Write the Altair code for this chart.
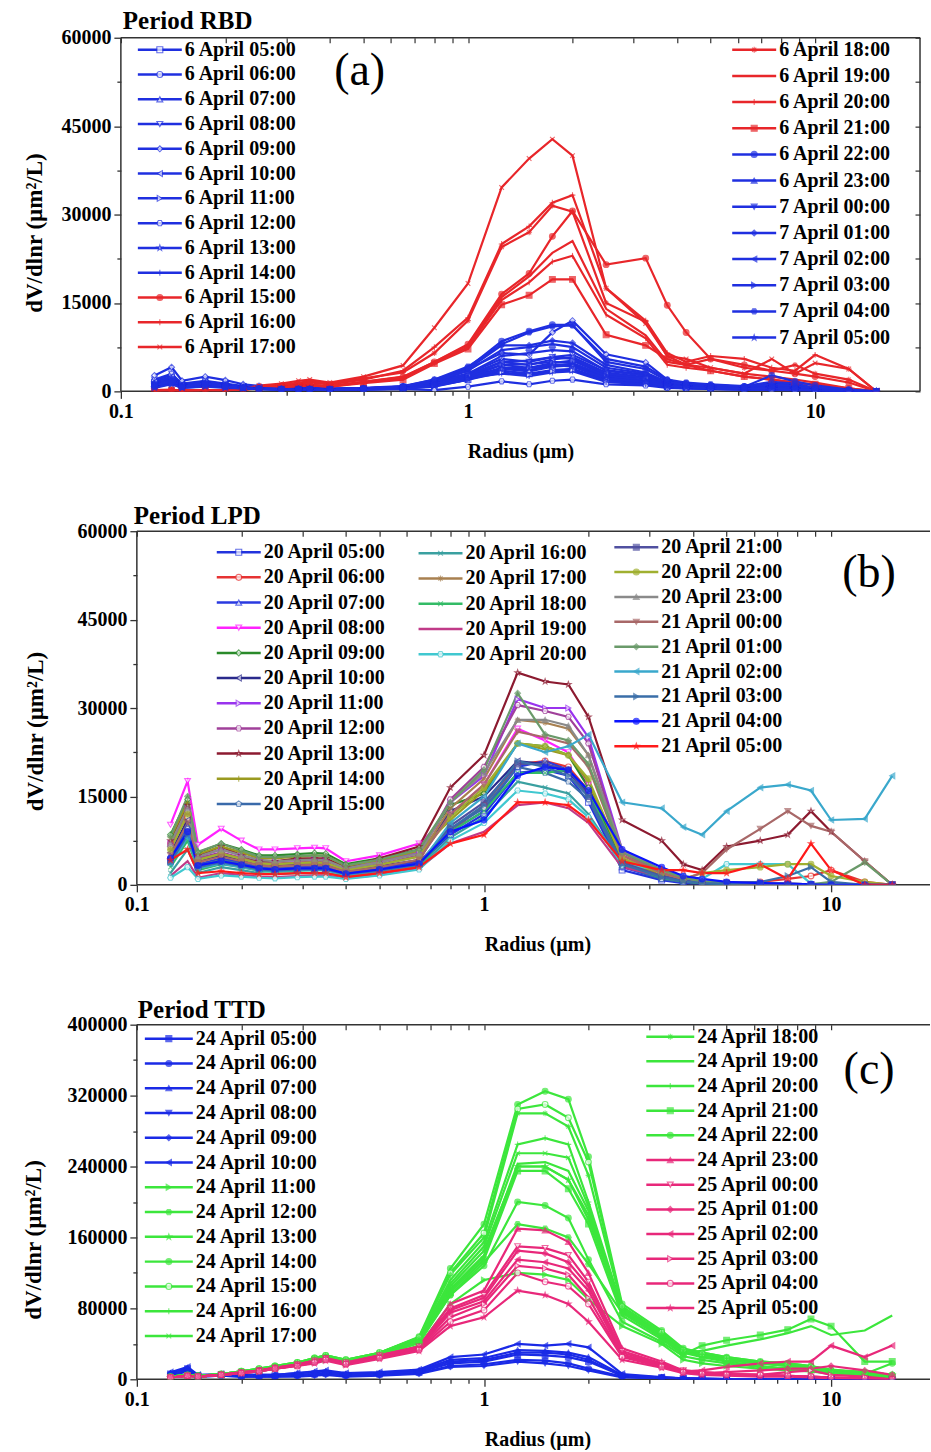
import altair as alt
import pandas as pd

FONT = "Liberation Serif"

# Particle radius bins (µm)
RADIUS = [0.125, 0.14, 0.15, 0.175, 0.2, 0.225, 0.25, 0.29, 0.325, 0.35, 0.4, 0.5,
          0.65, 0.8, 1.0, 1.25, 1.5, 1.75, 2.0, 2.5, 3.25, 3.75, 4.25, 5.0, 6.25,
          7.5, 8.75, 10.0, 12.5, 15.0]

# ---------------- Period RBD (values in 1000 µm²/L) ----------------
LABELS_A = [f"6 April {h:02d}:00" for h in range(5, 24)] + [f"7 April {h:02d}:00" for h in range(0, 6)]
BLUE_A, RED_A = "#1f2fe0", "#e8262a"
COLORS_A = [BLUE_A] * 10 + [RED_A] * 7 + [BLUE_A] * 8
MARKERS_A = [("square", 0), ("circle", 0), ("triangle-up", 0), ("triangle-down", 0), ("diamond", 0),
             ("triangle-left", 0), ("triangle-right", 0), ("hexagon", 0), ("star", 0), ("vbar", 0),
             ("circle", 1), ("plus", 0), ("cross", 0), ("asterisk", 0), ("none", 0), ("vbar", 0),
             ("square", 1), ("circle", 1), ("triangle-up", 1), ("triangle-down", 1), ("diamond", 1),
             ("triangle-left", 1), ("triangle-right", 1), ("hexagon", 1), ("star", 1)]
VALUES_A = [
    [1.5, 2.2, 1.0, 1.4, 1.0, 0.7, 0.5, 0.4, 0.4, 0.4, 0.3, 0.4, 0.5, 0.8, 2.0, 3.5, 3.0, 3.6, 3.8, 2.0, 1.5, 0.8, 0.6, 0.4, 0.3, 0.3, 0.2, 0.1, 0, 0],
    [1.8, 2.8, 1.2, 1.7, 1.2, 0.8, 0.6, 0.5, 0.5, 0.5, 0.4, 0.5, 0.7, 1.3, 2.6, 4.5, 4.0, 4.8, 5.2, 2.8, 2.2, 1.2, 0.8, 0.6, 0.5, 0.4, 0.3, 0.2, 0, 0],
    [1.2, 2.0, 0.9, 1.3, 1.0, 0.7, 0.5, 0.4, 0.4, 0.4, 0.3, 0.4, 0.6, 1.2, 2.4, 4.0, 3.6, 4.4, 4.6, 2.5, 1.8, 1.0, 0.8, 0.5, 0.4, 0.6, 0.4, 0.2, 0, 0],
    [2.0, 3.0, 1.3, 1.8, 1.3, 0.9, 0.7, 0.5, 0.5, 0.5, 0.4, 0.5, 0.8, 1.6, 3.0, 5.5, 5.0, 5.8, 6.2, 3.6, 2.8, 1.4, 1.0, 0.8, 0.6, 0.8, 0.5, 0.3, 0.1, 0],
    [2.7, 4.1, 1.8, 2.5, 1.9, 1.2, 0.9, 0.7, 0.7, 0.6, 0.5, 0.6, 0.9, 2.0, 3.8, 6.5, 6.2, 10.0, 12.0, 6.3, 4.9, 2.0, 1.2, 1.0, 0.8, 1.5, 1.0, 0.6, 0.2, 0],
    [1.6, 2.5, 1.1, 1.6, 1.1, 0.8, 0.6, 0.5, 0.5, 0.5, 0.4, 0.5, 0.7, 1.4, 2.8, 5.0, 4.5, 5.4, 5.8, 3.2, 2.4, 1.2, 0.9, 0.7, 0.6, 0.9, 0.6, 0.3, 0, 0],
    [1.0, 1.8, 0.8, 1.2, 0.9, 0.6, 0.5, 0.4, 0.4, 0.4, 0.3, 0.4, 0.5, 1.0, 2.0, 3.2, 2.8, 3.4, 3.6, 1.8, 1.4, 0.8, 0.6, 0.5, 0.4, 0.3, 0.2, 0.1, 0, 0],
    [0.8, 1.5, 0.7, 1.0, 0.8, 0.5, 0.4, 0.3, 0.3, 0.3, 0.3, 0.3, 0.4, 0.2, 0.8, 1.7, 1.2, 1.8, 2.0, 1.2, 1.0, 0.6, 0.5, 0.4, 0.3, 0.2, 0.1, 0.1, 0, 0],
    [1.4, 2.3, 1.0, 1.5, 1.1, 0.7, 0.5, 0.4, 0.4, 0.4, 0.3, 0.4, 0.6, 1.1, 2.2, 3.8, 3.4, 4.2, 4.4, 2.2, 1.6, 0.9, 0.7, 0.5, 0.4, 0.5, 0.3, 0.2, 0, 0],
    [1.1, 1.9, 0.9, 1.3, 1.0, 0.7, 0.5, 0.4, 0.4, 0.4, 0.3, 0.4, 0.6, 1.1, 2.3, 3.0, 2.6, 3.2, 3.4, 1.6, 1.2, 0.7, 0.5, 0.4, 0.3, 0.3, 0.2, 0.1, 0, 0],
    [0.2, 0.3, 0.1, 0.2, 0.2, 0.3, 0.6, 0.8, 1.0, 1.1, 0.9, 1.6, 2.5, 5.0, 8.0, 16.5, 20.0, 26.3, 30.6, 21.5, 22.6, 14.6, 10.0, 5.5, 4.5, 3.5, 3.0, 2.5, 1.5, 0],
    [0.1, 0.2, 0.1, 0.2, 0.2, 0.3, 0.7, 1.0, 1.3, 1.5, 1.2, 2.0, 3.5, 7.5, 12.5, 25.0, 28.0, 32.0, 33.3, 17.5, 12.0, 6.5, 5.0, 6.0, 5.5, 4.0, 3.5, 6.2, 3.8, 0],
    [0.1, 0.2, 0.1, 0.2, 0.2, 0.4, 1.0, 1.3, 1.8, 2.0, 1.5, 2.5, 4.4, 10.8, 18.3, 34.6, 39.5, 42.8, 40.0, 17.5, 11.5, 6.0, 5.5, 4.0, 3.0, 5.5, 3.0, 4.8, 3.8, 0],
    [0.1, 0.2, 0.1, 0.2, 0.2, 0.3, 0.8, 1.1, 1.5, 1.7, 1.3, 2.2, 3.2, 6.5, 12.0, 24.5, 27.0, 31.5, 30.5, 15.0, 11.8, 6.0, 4.5, 5.5, 4.0, 3.5, 4.5, 3.0, 2.0, 0],
    [0.1, 0.2, 0.1, 0.2, 0.2, 0.3, 0.6, 0.8, 1.0, 1.1, 0.9, 1.6, 2.4, 5.0, 7.8, 16.0, 19.5, 23.5, 25.5, 14.0, 9.5, 5.0, 4.5, 4.0, 3.0, 2.5, 2.0, 1.5, 0.5, 0],
    [0.1, 0.2, 0.1, 0.2, 0.2, 0.3, 0.6, 0.8, 0.9, 1.0, 0.8, 1.5, 2.2, 4.8, 7.5, 15.5, 18.5, 22.0, 23.0, 13.0, 9.0, 4.5, 4.0, 3.5, 2.5, 2.0, 1.5, 1.0, 0.3, 0],
    [0.1, 0.2, 0.1, 0.2, 0.2, 0.3, 0.5, 0.7, 0.9, 1.0, 0.8, 1.4, 2.0, 4.7, 7.2, 14.7, 16.3, 19.0, 19.0, 9.6, 7.8, 5.5, 4.5, 3.5, 2.5, 2.0, 1.5, 1.2, 0.5, 0],
    [1.2, 2.0, 1.0, 1.4, 1.0, 0.7, 0.5, 0.4, 0.4, 0.4, 0.4, 0.5, 0.8, 1.8, 4.0, 8.5, 10.2, 11.3, 11.3, 5.0, 3.8, 1.8, 1.4, 1.0, 0.8, 2.7, 1.7, 1.0, 0.3, 0],
    [1.0, 1.8, 0.9, 1.2, 0.9, 0.6, 0.5, 0.4, 0.4, 0.4, 0.3, 0.4, 0.7, 1.5, 3.5, 7.0, 7.5, 8.0, 7.5, 4.0, 3.0, 1.5, 1.2, 0.9, 0.7, 1.0, 0.8, 0.4, 0.1, 0],
    [0.9, 1.6, 0.8, 1.1, 0.8, 0.6, 0.4, 0.3, 0.3, 0.3, 0.3, 0.4, 0.6, 1.3, 3.0, 6.0, 6.5, 7.0, 6.8, 3.5, 2.6, 1.3, 1.0, 0.8, 0.6, 0.8, 0.6, 0.3, 0, 0],
    [1.1, 1.9, 0.9, 1.3, 1.0, 0.7, 0.5, 0.4, 0.4, 0.4, 0.3, 0.5, 0.7, 1.6, 3.8, 7.8, 7.8, 8.6, 8.2, 4.5, 3.2, 1.6, 1.2, 1.0, 0.8, 1.2, 0.9, 0.5, 0.1, 0],
    [0.8, 1.5, 0.7, 1.0, 0.8, 0.5, 0.4, 0.3, 0.3, 0.3, 0.3, 0.4, 0.5, 1.2, 2.6, 5.0, 5.2, 5.8, 5.5, 3.0, 2.2, 1.1, 0.9, 0.7, 0.5, 0.7, 0.5, 0.2, 0, 0],
    [0.7, 1.3, 0.6, 0.9, 0.7, 0.5, 0.4, 0.3, 0.3, 0.3, 0.2, 0.3, 0.5, 1.0, 2.3, 4.5, 4.6, 5.0, 4.8, 2.6, 1.9, 1.0, 0.8, 0.6, 0.5, 0.6, 0.4, 0.2, 0, 0],
    [1.0, 1.7, 0.8, 1.2, 0.9, 0.6, 0.5, 0.4, 0.4, 0.4, 0.3, 0.5, 0.8, 2.0, 4.2, 8.0, 10.0, 11.0, 11.2, 5.5, 4.2, 2.0, 1.5, 1.2, 0.9, 1.6, 1.3, 0.6, 0.3, 0],
    [0.6, 1.2, 0.6, 0.8, 0.6, 0.5, 0.4, 0.3, 0.3, 0.3, 0.2, 0.3, 0.4, 0.9, 2.0, 4.0, 4.0, 4.5, 4.2, 2.2, 1.6, 0.9, 0.7, 0.5, 0.4, 0.5, 0.3, 0.2, 0, 0],
]

# ---------------- Period LPD (values in 1000 µm²/L) ----------------
LABELS_B = [f"20 April {h:02d}:00" for h in range(5, 24)] + [f"21 April {h:02d}:00" for h in range(0, 6)]
COLORS_B = ["#2233dd", "#e63333", "#2a3ae0", "#ff22ff", "#2a8a2a", "#2a2a8c", "#9933ee", "#a0409a",
            "#8c1a30", "#9a9a20", "#3a6aaa", "#3aa0a0", "#a88050", "#33bb66", "#c03a88", "#40c8d0",
            "#5050a0", "#a0b030", "#8a8a8a", "#a86868", "#6a9a6a", "#3aa8cc", "#3a6ea8", "#0a14ff", "#ff1a1a"]
MARKERS_B = [("square", 0), ("circle", 0), ("triangle-up", 0), ("triangle-down", 0), ("diamond", 0),
             ("triangle-left", 0), ("triangle-right", 0), ("hexagon", 0), ("star", 0), ("plus", 0),
             ("pentagon", 0), ("cross", 0), ("asterisk", 0), ("cross", 0), ("none", 0), ("hexagon", 0),
             ("square", 1), ("circle", 1), ("triangle-up", 1), ("triangle-down", 1), ("diamond", 1),
             ("triangle-left", 1), ("triangle-right", 1), ("circle", 1), ("star", 1)]
VALUES_B = [
    [4.0, 9.0, 3.0, 4.0, 3.5, 2.8, 2.5, 2.6, 2.7, 2.7, 1.8, 2.5, 3.5, 8.5, 12.0, 19.0, 19.5, 18.5, 14.0, 2.5, 0.8, 0.3, 0.2, 0.1, 0, 0, 0, 0, 0, 0],
    [7.0, 11.5, 4.0, 5.0, 4.2, 3.5, 3.2, 3.5, 3.6, 3.5, 2.2, 3.0, 4.0, 9.0, 13.5, 20.5, 21.0, 20.0, 16.0, 4.0, 2.0, 1.0, 0.5, 0.3, 0.5, 1.0, 1.5, 2.5, 0.5, 0],
    [5.0, 10.0, 3.5, 4.5, 3.8, 3.0, 2.8, 3.0, 3.0, 3.0, 2.0, 2.8, 3.8, 9.0, 12.5, 20.0, 21.0, 19.5, 15.0, 3.0, 1.0, 0.5, 0.3, 0.2, 0.1, 0, 0, 0, 0, 0],
    [10.2, 17.6, 6.8, 9.5, 7.5, 6.0, 6.0, 6.2, 6.3, 6.2, 4.0, 5.0, 7.0, 12.0, 17.0, 26.5, 24.5, 22.5, 17.0, 4.5, 1.5, 0.8, 0.4, 0.3, 0.2, 0.1, 0, 0, 0, 0],
    [8.5, 14.5, 5.5, 7.0, 6.0, 5.0, 5.0, 5.2, 5.4, 5.3, 3.5, 4.5, 6.0, 13.5, 15.5, 24.0, 23.5, 22.0, 16.5, 4.0, 1.5, 0.8, 0.4, 0.3, 0.2, 0.1, 0, 0, 0, 0],
    [5.5, 11.0, 4.0, 5.0, 4.3, 3.6, 3.4, 3.6, 3.7, 3.6, 2.4, 3.2, 4.2, 12.5, 15.0, 21.0, 20.5, 19.0, 15.5, 3.5, 1.2, 0.6, 0.3, 0.2, 0.1, 0, 0, 0, 0, 0],
    [7.0, 13.0, 4.8, 6.0, 5.0, 4.2, 4.0, 4.2, 4.3, 4.2, 3.0, 4.0, 5.5, 14.0, 18.5, 31.5, 30.0, 30.0, 25.0, 6.0, 2.0, 1.0, 0.5, 0.4, 0.3, 0.2, 0.1, 0, 0, 0],
    [6.5, 12.5, 4.5, 5.5, 4.6, 3.8, 3.6, 3.8, 3.9, 3.8, 2.6, 3.5, 5.0, 14.5, 20.0, 30.5, 29.5, 28.5, 24.0, 5.5, 2.0, 1.0, 0.5, 0.3, 0.2, 0.1, 0, 0, 0, 0],
    [7.5, 13.5, 5.0, 6.5, 5.0, 4.0, 4.0, 4.5, 4.5, 4.5, 3.0, 4.5, 6.5, 16.5, 22.0, 36.0, 34.5, 34.0, 28.5, 11.0, 7.5, 3.5, 2.5, 6.5, 7.5, 8.5, 12.5, 9.0, 4.0, 0],
    [8.0, 14.0, 5.2, 6.5, 5.5, 4.5, 4.5, 4.8, 5.0, 4.9, 3.2, 4.2, 5.8, 11.0, 16.0, 24.0, 23.0, 22.0, 17.5, 4.5, 1.5, 0.8, 0.4, 0.3, 0.2, 0.1, 0, 0, 0, 0],
    [4.5, 9.5, 3.3, 4.2, 3.6, 2.9, 2.7, 2.8, 2.9, 2.9, 1.9, 2.6, 3.6, 9.5, 13.0, 20.0, 19.0, 17.5, 14.5, 3.2, 1.0, 0.5, 0.3, 0.2, 0.1, 0, 0, 0, 0, 0],
    [2.0, 6.0, 2.0, 3.0, 2.5, 2.0, 1.8, 2.0, 2.0, 2.0, 1.5, 2.0, 3.0, 8.0, 11.5, 17.5, 16.5, 15.5, 12.0, 3.5, 1.5, 0.8, 0.5, 0.3, 0.2, 0.1, 0, 0, 0, 0],
    [6.0, 12.0, 4.3, 5.3, 4.5, 3.7, 3.5, 3.7, 3.8, 3.7, 2.5, 3.4, 4.8, 13.0, 18.0, 28.0, 27.5, 26.5, 22.0, 5.0, 2.0, 1.0, 0.5, 0.3, 0.2, 0.1, 0, 0, 0, 0],
    [3.0, 7.5, 2.5, 3.5, 3.0, 2.4, 2.2, 2.4, 2.5, 2.5, 1.7, 2.3, 3.3, 9.0, 12.5, 19.0, 19.0, 19.5, 16.0, 3.5, 1.2, 0.6, 0.3, 0.2, 0.1, 0, 0, 0, 0, 0],
    [1.5, 4.0, 1.2, 2.0, 1.7, 1.4, 1.3, 1.5, 1.6, 1.6, 1.1, 1.7, 2.8, 7.0, 9.0, 13.5, 14.0, 13.0, 10.5, 3.0, 1.5, 0.8, 0.5, 0.3, 0.2, 0.1, 0, 0, 0, 0],
    [1.2, 3.0, 1.0, 1.6, 1.4, 1.2, 1.1, 1.3, 1.4, 1.4, 1.0, 1.6, 2.6, 7.5, 10.5, 16.0, 15.5, 14.5, 11.5, 3.5, 2.5, 1.5, 1.0, 3.5, 3.5, 3.5, 0.2, 0.1, 0, 0],
    [4.2, 9.0, 3.2, 4.0, 3.4, 2.8, 2.6, 2.8, 2.8, 2.8, 1.9, 2.6, 3.6, 10.0, 14.0, 20.5, 20.5, 19.5, 15.0, 3.8, 1.5, 0.8, 0.4, 0.3, 0.2, 0.1, 0, 0, 0, 0],
    [6.0, 12.0, 4.2, 5.3, 4.4, 3.6, 3.5, 3.7, 3.8, 3.7, 2.5, 3.4, 4.8, 11.5, 16.5, 24.0, 23.5, 22.0, 18.0, 4.5, 2.0, 1.0, 2.0, 2.5, 3.0, 3.5, 3.5, 1.5, 0.5, 0],
    [7.0, 13.0, 4.8, 6.0, 5.0, 4.2, 4.0, 4.2, 4.3, 4.2, 2.8, 3.8, 5.3, 14.0, 19.0, 28.0, 28.0, 27.0, 22.0, 6.0, 2.5, 1.2, 0.6, 0.4, 0.3, 0.2, 0.1, 0, 0, 0],
    [5.0, 10.5, 3.8, 4.8, 4.0, 3.3, 3.1, 3.3, 3.4, 3.3, 2.2, 3.0, 4.3, 12.0, 17.0, 26.0, 25.0, 24.0, 20.0, 5.0, 2.0, 1.0, 2.0, 6.0, 9.5, 12.5, 10.0, 9.0, 4.0, 0],
    [8.2, 15.0, 5.6, 7.0, 5.8, 4.8, 4.7, 4.9, 5.0, 4.9, 3.3, 4.3, 6.0, 14.0, 19.5, 32.5, 25.5, 24.5, 20.5, 5.5, 2.5, 1.2, 0.6, 0.4, 0.3, 0.2, 0.1, 0.5, 3.8, 0],
    [3.5, 8.0, 2.8, 3.6, 3.0, 2.5, 2.3, 2.5, 2.5, 2.5, 1.7, 2.3, 3.4, 10.5, 15.0, 24.0, 22.5, 23.5, 25.5, 14.0, 13.0, 9.8, 8.5, 12.5, 16.5, 17.0, 16.0, 11.0, 11.2, 18.5],
    [3.8, 8.5, 3.0, 3.8, 3.2, 2.6, 2.4, 2.6, 2.6, 2.6, 1.8, 2.4, 3.4, 9.5, 13.5, 21.0, 20.0, 18.5, 15.0, 3.5, 1.3, 0.6, 0.3, 0.2, 0.5, 1.5, 3.0, 0.5, 0, 0],
    [4.5, 9.0, 3.3, 4.0, 3.4, 2.8, 2.6, 2.8, 2.8, 2.8, 1.9, 2.6, 3.6, 9.0, 11.0, 18.5, 20.0, 19.5, 16.0, 6.0, 3.0, 1.5, 1.0, 0.5, 0.3, 0.2, 0.1, 0, 0, 0],
    [4.2, 6.0, 2.0, 2.3, 2.0, 1.8, 1.8, 2.0, 2.0, 2.0, 1.3, 2.0, 3.0, 7.0, 8.5, 14.0, 14.0, 13.5, 11.0, 4.0, 2.5, 2.5, 2.0, 2.0, 3.5, 1.0, 7.0, 2.5, 0, 0],
]

# ---------------- Period TTD (values in 1000 µm²/L) ----------------
LABELS_C = [f"24 April {h:02d}:00" for h in range(5, 24)] + [f"25 April {h:02d}:00" for h in range(0, 6)]
BLUE_C, GREEN_C, PINK_C = "#1a2ae6", "#3ce63c", "#e8287a"
COLORS_C = [BLUE_C] * 6 + [GREEN_C] * 12 + [PINK_C] * 7
MARKERS_C = [("square", 1), ("circle", 1), ("triangle-up", 1), ("triangle-down", 1), ("diamond", 1),
             ("triangle-left", 1), ("triangle-right", 1), ("hexagon", 1), ("star", 1), ("circle", 1),
             ("circle", 0), ("plus", 0), ("cross", 0), ("asterisk", 0), ("none", 0), ("vbar", 0),
             ("square", 1), ("circle", 1), ("triangle-up", 1), ("triangle-down", 0), ("diamond", 1),
             ("triangle-left", 1), ("triangle-right", 0), ("circle", 0), ("star", 1)]
VALUES_C = [
    [6, 12, 4, 5, 4, 4, 4, 5, 6, 7, 5, 6, 8, 18, 20, 28, 27, 25, 20, 4, 2, 1, 0.5, 0.3, 0.2, 0.1, 0, 0, 0, 0],
    [5, 10, 3, 4, 3, 3, 3, 4, 5, 6, 4, 5, 7, 15, 17, 22, 21, 18, 12, 3, 1.5, 0.8, 0.4, 0.2, 0.1, 0, 0, 0, 0, 0],
    [7, 13, 4, 5, 5, 5, 5, 7, 8, 9, 6, 7, 10, 22, 24, 33, 32, 30, 25, 5, 2, 1, 0.5, 0.3, 0.2, 0.1, 0, 0, 0, 0],
    [4, 9, 3, 4, 3, 3, 3, 3, 4, 5, 3, 4, 6, 14, 15, 20, 18, 15, 10, 2, 1, 0.5, 0.3, 0.2, 0.1, 0, 0, 0, 0, 0],
    [6, 11, 4, 5, 4, 4, 4, 5, 6, 7, 5, 6, 9, 20, 22, 30, 30, 28, 22, 4, 2, 1, 0.5, 0.3, 0.2, 0.1, 0, 0, 0, 0],
    [8, 14, 5, 6, 5, 5, 5, 7, 9, 10, 7, 8, 11, 25, 28, 40, 38, 40, 36, 6, 2.5, 1.2, 0.6, 0.3, 0.2, 0.1, 0, 0, 0, 0],
    [2, 4, 3, 5, 7, 9, 12, 16, 20, 22, 18, 25, 38, 85, 112, 120, 118, 112, 90, 60, 40, 22, 18, 15, 12, 10, 9, 6, 4, 2],
    [2, 4, 3, 5, 8, 10, 13, 17, 21, 24, 19, 27, 42, 95, 132, 175, 170, 160, 130, 75, 48, 30, 25, 20, 15, 12, 10, 8, 5, 3],
    [2, 4, 3, 5, 8, 11, 14, 18, 22, 25, 20, 28, 44, 105, 145, 240, 240, 225, 180, 78, 50, 32, 28, 22, 18, 15, 12, 10, 8, 5],
    [3, 5, 4, 6, 9, 12, 15, 19, 24, 27, 22, 30, 48, 125, 175, 310, 325, 316, 251, 85, 55, 35, 30, 25, 20, 18, 15, 10, 8, 5],
    [3, 5, 4, 6, 9, 12, 15, 19, 24, 27, 22, 30, 47, 120, 165, 305, 310, 295, 245, 82, 53, 33, 29, 24, 19, 17, 14, 10, 7, 5],
    [3, 5, 4, 6, 9, 11, 14, 18, 23, 26, 21, 29, 45, 112, 155, 265, 272, 265, 200, 80, 52, 33, 28, 23, 18, 16, 13, 10, 7, 4],
    [3, 5, 4, 6, 9, 11, 14, 18, 23, 26, 21, 29, 45, 108, 150, 255, 255, 250, 195, 78, 50, 32, 27, 22, 18, 15, 12, 9, 6, 4],
    [3, 5, 4, 6, 9, 12, 15, 19, 24, 27, 22, 30, 47, 118, 160, 300, 300, 285, 230, 82, 52, 34, 30, 25, 20, 18, 15, 11, 8, 5],
    [2, 4, 3, 5, 8, 11, 14, 18, 23, 25, 20, 28, 44, 102, 140, 243, 245, 235, 190, 76, 48, 30, 32, 38, 45, 52, 60, 50, 55, 72],
    [2, 4, 3, 5, 8, 11, 14, 18, 22, 25, 20, 28, 43, 100, 138, 240, 240, 225, 185, 75, 47, 30, 27, 22, 18, 15, 12, 9, 6, 4],
    [2, 4, 3, 5, 8, 10, 13, 17, 22, 24, 19, 27, 42, 98, 135, 235, 235, 215, 175, 72, 45, 28, 38, 44, 50, 56, 68, 60, 20, 20],
    [2, 4, 3, 5, 8, 10, 13, 17, 21, 24, 19, 27, 41, 95, 128, 200, 196, 182, 135, 65, 42, 26, 22, 18, 14, 12, 10, 8, 6, 18],
    [2, 4, 3, 5, 8, 10, 13, 17, 21, 24, 19, 27, 37, 85, 100, 170, 168, 155, 120, 35, 20, 10, 8, 6, 5, 4, 3, 2, 1, 0],
    [2, 4, 3, 5, 8, 10, 13, 17, 21, 24, 19, 27, 37, 80, 95, 150, 148, 140, 110, 32, 18, 10, 8, 6, 5, 4, 3, 2, 1, 0],
    [2, 4, 3, 5, 7, 10, 13, 16, 20, 23, 18, 26, 36, 78, 92, 145, 142, 132, 105, 30, 17, 9, 7, 8, 10, 12, 12, 15, 10, 5],
    [2, 4, 3, 5, 7, 10, 12, 16, 20, 23, 18, 25, 35, 75, 88, 135, 132, 125, 100, 28, 16, 9, 10, 14, 18, 20, 20, 38, 25, 38],
    [2, 4, 3, 5, 7, 9, 12, 16, 19, 22, 17, 25, 34, 70, 85, 128, 125, 118, 92, 26, 15, 8, 7, 6, 5, 8, 10, 5, 3, 0],
    [2, 4, 3, 5, 7, 9, 12, 15, 19, 22, 17, 24, 33, 65, 78, 120, 110, 105, 85, 25, 14, 8, 6, 5, 5, 4, 3, 2, 1, 0],
    [2, 4, 3, 5, 7, 9, 12, 15, 18, 21, 16, 23, 32, 60, 70, 100, 95, 85, 65, 22, 13, 7, 5, 4, 3, 3, 2, 1, 0, 0],
]

# Marker glyphs: built-in symbols or SVG paths in the [-1, 1] box
SHAPES = {
    "square": "square", "circle": "circle", "diamond": "diamond",
    "triangle-up": "triangle-up", "triangle-down": "triangle-down",
    "triangle-left": "triangle-left", "triangle-right": "triangle-right",
    "hexagon": "M-1,0L-0.5,-0.87L0.5,-0.87L1,0L0.5,0.87L-0.5,0.87Z",
    "pentagon": "M0,-1L0.95,-0.31L0.59,0.81L-0.59,0.81L-0.95,-0.31Z",
    "star": "M0,-1L0.24,-0.32L0.95,-0.31L0.38,0.12L0.59,0.81L0,0.4L-0.59,0.81L-0.38,0.12L-0.95,-0.31L-0.24,-0.32Z",
    "plus": "M-1,0L1,0M0,-1L0,1",
    "cross": "M-0.8,-0.8L0.8,0.8M-0.8,0.8L0.8,-0.8",
    "asterisk": "M-1,0L1,0M0,-1L0,1M-0.7,-0.7L0.7,0.7M-0.7,0.7L0.7,-0.7",
    "vbar": "M0,-1L0,1",
    "none": "circle",
}

DECADE = 347.5          # pixels per decade of radius
X_TICKS = [0.1, 0.2, 0.3, 0.4, 0.5, 0.6, 0.7, 0.8, 0.9, 1, 2, 3, 4, 5, 6, 7, 8, 9, 10]
X_MAJOR = "datum.value == 0.1 || datum.value == 1 || datum.value == 10"
AXIS_COLOR = "#333333"


def series_frame(labels, colors, markers, values, scale):
    rows = []
    for i, (lab, col, (mk, filled), vals) in enumerate(zip(labels, colors, markers, values)):
        for r, v in zip(RADIUS, vals):
            rows.append(dict(idx=i, label=lab, color=col, mk=mk, shape=SHAPES[mk],
                             fill=col if filled else "white", r=r, v=v * scale))
    return pd.DataFrame(rows)


def legend_frame(labels, colors, markers, columns, seg):
    rows = []
    for start, stop, x0, y0, dy in columns:
        for k, i in enumerate(range(start, stop)):
            mk, filled = markers[i]
            rows.append(dict(label=labels[i], color=colors[i], mk=mk, shape=SHAPES[mk],
                             fill=colors[i] if filled else "white",
                             x0=x0, x1=x0 + seg, xm=x0 + seg / 2, tx=x0 + seg + 3, ty=y0 + k * dy))
    return pd.DataFrame(rows)


def panel(df, leg, ymax, ystep, ymajor, width, height, x0, title, title_pos, tag, tag_pos,
          xtitle_x, ytitle_pos, right_frame):
    lo = 10 ** (-1 - x0 / DECADE)
    hi = 10 ** (-1 + (width - x0) / DECADE)
    xs = alt.Scale(type="log", domain=[lo, hi])
    ys = alt.Scale(domain=[0, ymax], nice=False, zero=True)
    y_ticks = list(range(0, ymax + 1, ystep))
    y_major = f"datum.value % {ymajor} == 0"

    x_bottom = alt.Axis(
        orient="bottom", values=X_TICKS, domain=False, grid=False,
        labelExpr="datum.value == 0.1 ? '0.1' : datum.value == 1 ? '1' : datum.value == 10 ? '10' : ''",
        tickSize={"condition": {"test": X_MAJOR, "value": 7}, "value": 4},
        tickColor=AXIS_COLOR, tickWidth=1.3, labelFlush=False, labelOverlap=False,
        labelFont=FONT, labelFontSize=20, labelFontWeight="bold", labelColor="black", labelPadding=3,
        title="Radius (µm)", titleFont=FONT, titleFontSize=20, titleFontWeight="bold", titleColor="black",
        titleX=xtitle_x, titleY=60, titleAlign="center", titleBaseline="middle")
    y_left = alt.Axis(
        orient="left", values=y_ticks, domain=False, grid=False, offset=-x0,
        labelExpr=f"({y_major}) ? format(datum.value, 'd') : ''",
        tickSize={"condition": {"test": y_major, "value": 7}, "value": 4},
        tickColor=AXIS_COLOR, tickWidth=1.3, labelOverlap=False, labelFlush=False,
        labelFont=FONT, labelFontSize=20, labelFontWeight="bold", labelColor="black", labelPadding=3,
        title="dV/dlnr (µm²/L)", titleFont=FONT, titleFontSize=23, titleFontWeight="bold", titleColor="black",
        titleX=ytitle_pos[0] - x0, titleY=ytitle_pos[1], titleAlign="center", titleBaseline="middle",
        titleAngle=-90)
    x_top = alt.Axis(orient="top", values=X_TICKS, domain=False, grid=False, labels=False,
                     tickSize=5, offset=-5, tickColor=AXIS_COLOR, tickWidth=1.2, title=None)
    if right_frame:
        y_right = alt.Axis(orient="right", values=y_ticks, domain=False, grid=False, labels=False,
                           tickSize=5, offset=-5, tickColor=AXIS_COLOR, tickWidth=1.2, title=None)
    else:
        y_right = None

    # plot frame
    segs = [(x0, x0, 0, height), (x0, width, 0, 0), (x0, width, height, height)]
    if right_frame:
        segs.append((width, width, 0, height))
    frame_df = pd.DataFrame(segs, columns=["fx0", "fx1", "fy0", "fy1"])
    frame = alt.Chart(frame_df).mark_rule(color=AXIS_COLOR, strokeWidth=1.5).encode(
        x=alt.X("fx0:Q", scale=None, axis=None), x2="fx1:Q",
        y=alt.Y("fy0:Q", scale=None, axis=None), y2="fy1:Q")

    base = alt.Chart(df)
    lines = base.mark_line(strokeWidth=2.2, clip=True).encode(
        x=alt.X("r:Q", scale=xs, axis=x_bottom),
        y=alt.Y("v:Q", scale=ys, axis=y_left),
        color=alt.Color("color:N", scale=None),
        detail="idx:N",
        order="r:Q")
    points = base.transform_filter("datum.mk != 'none'").mark_point(
        filled=True, size=34, strokeWidth=1.1, clip=True).encode(
        x=alt.X("r:Q", scale=xs, axis=x_top),
        y=alt.Y("v:Q", scale=ys, axis=y_right),
        shape=alt.Shape("shape:N", scale=None),
        fill=alt.Fill("fill:N", scale=None),
        stroke=alt.Stroke("color:N", scale=None),
        detail="idx:N")

    lb = alt.Chart(leg)
    leg_lines = lb.mark_rule(strokeWidth=2.5).encode(
        x=alt.X("x0:Q", scale=None, axis=None), x2="x1:Q",
        y=alt.Y("ty:Q", scale=None, axis=None),
        color=alt.Color("color:N", scale=None))
    leg_pts = lb.transform_filter("datum.mk != 'none'").mark_point(
        filled=True, size=36, strokeWidth=1.1).encode(
        x=alt.X("xm:Q", scale=None, axis=None),
        y=alt.Y("ty:Q", scale=None, axis=None),
        shape=alt.Shape("shape:N", scale=None),
        fill=alt.Fill("fill:N", scale=None),
        stroke=alt.Stroke("color:N", scale=None))
    leg_text = lb.mark_text(align="left", baseline="middle", font=FONT, fontSize=20,
                            fontWeight="bold", color="black").encode(
        x=alt.X("tx:Q", scale=None, axis=None),
        y=alt.Y("ty:Q", scale=None, axis=None),
        text="label:N")

    title_mark = alt.Chart(pd.DataFrame({"t": [title]})).mark_text(
        align="left", baseline="middle", font=FONT, fontSize=25, fontWeight="bold", color="black"
    ).encode(text="t:N", x=alt.value(title_pos[0]), y=alt.value(title_pos[1]))
    tag_mark = alt.Chart(pd.DataFrame({"t": [tag]})).mark_text(
        align="center", baseline="middle", font=FONT, fontSize=46, color="black"
    ).encode(text="t:N", x=alt.value(tag_pos[0]), y=alt.value(tag_pos[1]))

    return alt.layer(frame, lines, points, leg_lines, leg_pts, leg_text, title_mark, tag_mark).resolve_axis(
        x="independent", y="independent").properties(width=width, height=height)


df_a = series_frame(LABELS_A, COLORS_A, MARKERS_A, VALUES_A, 1000)
df_b = series_frame(LABELS_B, COLORS_B, MARKERS_B, VALUES_B, 1000)
df_c = series_frame(LABELS_C, COLORS_C, MARKERS_C, VALUES_C, 1000)

leg_a = legend_frame(LABELS_A, COLORS_A, MARKERS_A, [(0, 13, 17, 12, 24.8), (13, 25, 612, 12, 26.2)], 44)
leg_b = legend_frame(LABELS_B, COLORS_B, MARKERS_B,
                     [(0, 11, 96, 21, 25.2), (11, 16, 298, 22, 25.3), (16, 25, 494, 16, 24.9)], 44)
leg_c = legend_frame(LABELS_C, COLORS_C, MARKERS_C, [(0, 13, 24, 14, 24.8), (13, 25, 526, 12, 24.7)], 48)

pa = panel(df_a, leg_a, 60000, 7500, 15000, 800, 354, 0, "Period RBD", (2, -17), "(a)", (239, 33),
           400, (-86, 195), True)
pb = panel(df_b, leg_b, 60000, 7500, 15000, 810, 354, 16, "Period LPD", (13, -15), "(b)", (749, 42),
           417, (-85, 200), False)
pc = panel(df_c, leg_c, 400000, 40000, 80000, 810, 355, 16, "Period TTD", (17, -15), "(c)", (749, 45),
           417, (-87, 215), False)

chart = alt.vconcat(pa, pb, pc, spacing=43).properties(
    padding={"left": 23, "top": 8, "right": 0, "bottom": 0}, background="white"
).configure_view(stroke=None)

chart.save("out.html", embed_options={"renderer": "svg", "actions": False})
